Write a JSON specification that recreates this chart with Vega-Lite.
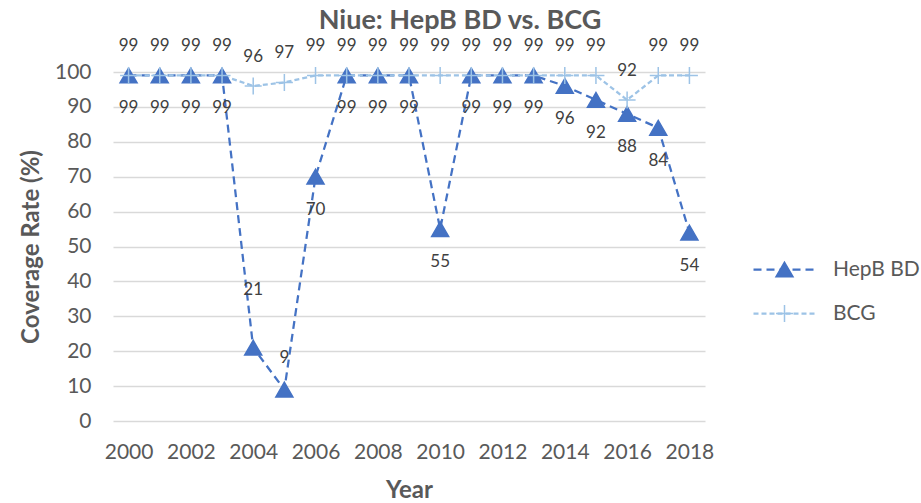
{
  "$schema": "https://vega.github.io/schema/vega-lite/v6.json",
  "width": 592,
  "height": 349,
  "autosize": "none",
  "padding": {"left": 113, "top": 72, "right": 216, "bottom": 82},
  "background": "white",
  "config": {
    "font": "Lato",
    "view": {"stroke": null}
  },
  "title": {
    "text": "Niue: HepB BD vs. BCG",
    "fontSize": 27,
    "fontWeight": "bold",
    "color": "#595959",
    "anchor": "middle",
    "dx": 51,
    "offset": 2
  },
  "data": {
    "values": [
      {"year": 2000, "series": "HepB BD", "value": 99},
      {"year": 2001, "series": "HepB BD", "value": 99},
      {"year": 2002, "series": "HepB BD", "value": 99},
      {"year": 2003, "series": "HepB BD", "value": 99},
      {"year": 2004, "series": "HepB BD", "value": 21},
      {"year": 2005, "series": "HepB BD", "value": 9},
      {"year": 2006, "series": "HepB BD", "value": 70},
      {"year": 2007, "series": "HepB BD", "value": 99},
      {"year": 2008, "series": "HepB BD", "value": 99},
      {"year": 2009, "series": "HepB BD", "value": 99},
      {"year": 2010, "series": "HepB BD", "value": 55},
      {"year": 2011, "series": "HepB BD", "value": 99},
      {"year": 2012, "series": "HepB BD", "value": 99},
      {"year": 2013, "series": "HepB BD", "value": 99},
      {"year": 2014, "series": "HepB BD", "value": 96},
      {"year": 2015, "series": "HepB BD", "value": 92},
      {"year": 2016, "series": "HepB BD", "value": 88},
      {"year": 2017, "series": "HepB BD", "value": 84},
      {"year": 2018, "series": "HepB BD", "value": 54},
      {"year": 2000, "series": "BCG", "value": 99},
      {"year": 2001, "series": "BCG", "value": 99},
      {"year": 2002, "series": "BCG", "value": 99},
      {"year": 2003, "series": "BCG", "value": 99},
      {"year": 2004, "series": "BCG", "value": 96},
      {"year": 2005, "series": "BCG", "value": 97},
      {"year": 2006, "series": "BCG", "value": 99},
      {"year": 2007, "series": "BCG", "value": 99},
      {"year": 2008, "series": "BCG", "value": 99},
      {"year": 2009, "series": "BCG", "value": 99},
      {"year": 2010, "series": "BCG", "value": 99},
      {"year": 2011, "series": "BCG", "value": 99},
      {"year": 2012, "series": "BCG", "value": 99},
      {"year": 2013, "series": "BCG", "value": 99},
      {"year": 2014, "series": "BCG", "value": 99},
      {"year": 2015, "series": "BCG", "value": 99},
      {"year": 2016, "series": "BCG", "value": 92},
      {"year": 2017, "series": "BCG", "value": 99},
      {"year": 2018, "series": "BCG", "value": 99}
    ]
  },
  "encoding": {
    "x": {
      "field": "year",
      "type": "quantitative",
      "scale": {"domain": [1999.5, 2018.5], "nice": false, "zero": false},
      "axis": {
        "title": "Year",
        "values": [2000, 2002, 2004, 2006, 2008, 2010, 2012, 2014, 2016, 2018],
        "format": "d",
        "grid": false,
        "domain": false,
        "ticks": false,
        "labelFontSize": 21,
        "labelColor": "#595959",
        "labelPadding": 20,
        "titleFontSize": 24,
        "titleFontWeight": "bold",
        "titleColor": "#595959",
        "titlePadding": 16
      }
    },
    "y": {
      "field": "value",
      "type": "quantitative",
      "scale": {"domain": [0, 100], "nice": false},
      "axis": {
        "title": "Coverage Rate (%)",
        "values": [0, 10, 20, 30, 40, 50, 60, 70, 80, 90, 100],
        "grid": true,
        "gridColor": "#D9D9D9",
        "gridWidth": 1.3,
        "domain": false,
        "ticks": false,
        "labelFontSize": 21,
        "labelColor": "#595959",
        "labelPadding": 22,
        "titleFontSize": 24,
        "titleFontWeight": "bold",
        "titleColor": "#595959",
        "titlePadding": 11
      }
    }
  },
  "layer": [
    {
      "mark": {"type": "line", "strokeWidth": 2.25},
      "encoding": {
        "color": {
          "field": "series",
          "type": "nominal",
          "scale": {"domain": ["HepB BD", "BCG"], "range": ["#4472C4", "#9DC3E6"]},
          "legend": {
            "title": null,
            "orient": "none",
            "legendX": 662,
            "legendY": 187,
            "padding": 0,
            "symbolType": "M-4,0H4",
            "symbolSize": 256,
            "symbolStrokeWidth": 2.25,
            "labelFontSize": 21,
            "labelColor": "#595959",
            "labelOffset": 37,
            "rowPadding": 22
          }
        },
        "strokeDash": {
          "field": "series",
          "type": "nominal",
          "scale": {"domain": ["HepB BD", "BCG"], "range": [[8, 5], [5, 3]]},
          "legend": {
            "title": null,
            "orient": "none",
            "legendX": 662,
            "legendY": 187,
            "padding": 0,
            "symbolType": "M-4,0H4",
            "symbolSize": 256,
            "symbolStrokeWidth": 2.25,
            "labelFontSize": 21,
            "labelColor": "#595959",
            "labelOffset": 37,
            "rowPadding": 22
          }
        }
      }
    },
    {
      "mark": {"type": "point", "size": 289, "strokeWidth": 1.5, "opacity": 1},
      "encoding": {
        "shape": {
          "field": "series",
          "type": "nominal",
          "sort": "descending",
          "scale": {"range": ["triangle-up", "M-1,0H1M0,-1V1"]},
          "legend": {
            "title": null,
            "orient": "none",
            "legendX": 661,
            "legendY": 187,
            "padding": 0,
            "symbolSize": 289,
            "symbolStrokeWidth": 1.5,
            "labelExpr": "''",
            "labelFontSize": 21,
            "rowPadding": 22
          }
        },
        "fill": {
          "field": "series",
          "type": "nominal",
          "sort": "descending",
          "scale": {"range": ["#4472C4", "transparent"]},
          "legend": {
            "title": null,
            "orient": "none",
            "legendX": 661,
            "legendY": 187,
            "padding": 0,
            "symbolSize": 289,
            "labelExpr": "''",
            "labelFontSize": 21,
            "rowPadding": 22
          }
        },
        "stroke": {
          "field": "series",
          "type": "nominal",
          "sort": "descending",
          "scale": {"range": ["#4472C4", "#9DC3E6"]},
          "legend": {
            "title": null,
            "orient": "none",
            "legendX": 661,
            "legendY": 187,
            "padding": 0,
            "symbolSize": 289,
            "labelExpr": "''",
            "labelFontSize": 21,
            "rowPadding": 22
          }
        }
      }
    },
    {
      "transform": [{"filter": "datum.series === 'BCG'"}],
      "mark": {"type": "text", "dy": -29, "fontSize": 17, "color": "#404040"},
      "encoding": {"text": {"field": "value", "type": "quantitative"}}
    },
    {
      "transform": [{"filter": "datum.series === 'HepB BD' && datum.year !== 2004 && datum.year !== 2005"}],
      "mark": {"type": "text", "dy": 33, "fontSize": 17, "color": "#404040"},
      "encoding": {"text": {"field": "value", "type": "quantitative"}}
    },
    {
      "transform": [{"filter": "datum.series === 'HepB BD' && datum.year === 2005"}],
      "mark": {"type": "text", "dy": -32, "fontSize": 17, "color": "#404040"},
      "encoding": {"text": {"field": "value", "type": "quantitative"}}
    },
    {
      "transform": [{"filter": "datum.series === 'HepB BD' && datum.year === 2004"}],
      "mark": {"type": "text", "dy": -58, "fontSize": 17, "color": "#404040"},
      "encoding": {"text": {"field": "value", "type": "quantitative"}}
    }
  ]
}
